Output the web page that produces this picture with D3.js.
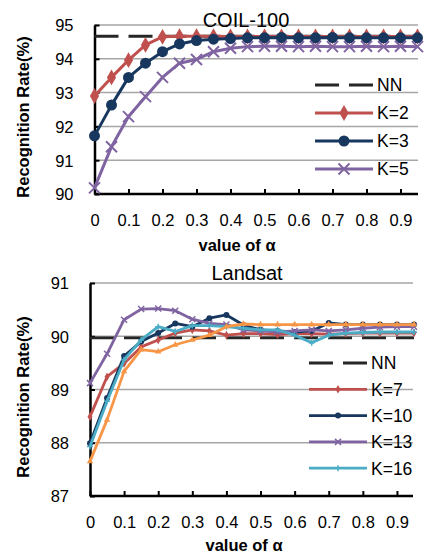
<!DOCTYPE html>
<html>
<head>
<meta charset="utf-8">
<script src="https://cdn.jsdelivr.net/npm/d3@7"></script>
<style>
  body { margin: 0; background: #fff; }
  svg text { font-family: "Liberation Sans", Arial, sans-serif; fill: #000; }
</style>
</head>
<body>
<script>
// alpha values (x categories)
const alpha = [0, 0.05, 0.1, 0.15, 0.2, 0.25, 0.3, 0.35, 0.4, 0.45,
               0.5, 0.55, 0.6, 0.65, 0.7, 0.75, 0.8, 0.85, 0.9, 0.95];
const xTicks = [0, 0.1, 0.2, 0.3, 0.4, 0.5, 0.6, 0.7, 0.8, 0.9];
const xTickLabels = ["0", "0.1", "0.2", "0.3", "0.4", "0.5", "0.6", "0.7", "0.8", "0.9"];

// COIL-100 panel
const coilTicks = [90, 91, 92, 93, 94, 95];
const coilNN = 94.67;
const coilK2 = [92.9, 93.45, 93.96, 94.41, 94.65, 94.67, 94.67, 94.67, 94.66, 94.66,
                94.66, 94.66, 94.66, 94.66, 94.66, 94.66, 94.66, 94.66, 94.66, 94.66];
const coilK3 = [91.72, 92.63, 93.45, 93.87, 94.21, 94.44, 94.54, 94.58, 94.6, 94.62,
                94.62, 94.63, 94.62, 94.62, 94.63, 94.62, 94.62, 94.62, 94.62, 94.62];
const coilK5 = [90.18, 91.4, 92.29, 92.88, 93.45, 93.87, 93.98, 94.21, 94.31, 94.36,
                94.37, 94.37, 94.36, 94.37, 94.36, 94.36, 94.37, 94.36, 94.37, 94.36];

// Landsat panel
const landTicks = [87, 88, 89, 90, 91];
const landNN = 89.97;
const landK7 = [88.49, 89.24, 89.49, 89.8, 89.93, 90.06, 90.12, 90.1, 90.02, 90.05,
                90.05, 90.03, 90.05, 90.05, 90.04, 90.05, 90.06, 90.06, 90.06, 90.06];
const landK10 = [87.99, 88.84, 89.63, 89.9, 90.06, 90.24, 90.18, 90.34, 90.4, 90.21,
                 90.12, 90.1, 90.08, 90.1, 90.25, 90.22, 90.22, 90.22, 90.22, 90.22];
const landK13 = [89.12, 89.67, 90.31, 90.51, 90.52, 90.48, 90.32, 90.24, 90.22, 90.12,
                 90.1, 90.08, 90.1, 90.12, 90.1, 90.12, 90.15, 90.17, 90.18, 90.18];
const landK16 = [87.93, 88.78, 89.56, 89.93, 90.18, 90.09, 90.2, 90.2, 90.18, 90.15,
                 90.12, 90.12, 90.02, 89.88, 90.02, 90.06, 90.07, 90.08, 90.08, 90.08];
const landK19 = [87.65, 88.43, 89.34, 89.75, 89.71, 89.84, 89.93, 90.02, 90.18, 90.23,
                 90.22, 90.22, 90.22, 90.22, 90.22, 90.22, 90.22, 90.22, 90.22, 90.22];

const svg = d3.select("body").append("svg")
  .attr("width", 426).attr("height", 554);

function marker(g, type, x, y, size, color, sw) {
  if (type === "diamond") {
    g.append("path").attr("d", d3.symbol(d3.symbolDiamond, size * size * 0.6)())
      .attr("transform", "translate(" + x + "," + y + ")").attr("fill", color);
  } else if (type === "circle") {
    g.append("circle").attr("cx", x).attr("cy", y).attr("r", size / 2).attr("fill", color);
  } else if (type === "triangle") {
    g.append("path").attr("d", d3.symbol(d3.symbolTriangle, size * size * 0.5)())
      .attr("transform", "translate(" + x + "," + y + ")").attr("fill", color);
  } else if (type === "x" || type === "plus") {
    const h = size / 2;
    const p = type === "x"
      ? "M" + (-h) + "," + (-h) + "L" + h + "," + h + "M" + (-h) + "," + h + "L" + h + "," + (-h)
      : "M" + (-h) + ",0L" + h + ",0M0," + (-h) + "L0," + h;
    g.append("path").attr("d", p).attr("transform", "translate(" + x + "," + y + ")")
      .attr("stroke", color).attr("stroke-width", sw).attr("fill", "none");
  }
}

function panel(cfg) {
  const g = svg.append("g");
  const x = d3.scaleLinear().domain([0, 0.95]).range([cfg.left, cfg.right]);
  const y = d3.scaleLinear().domain(d3.extent(cfg.yTicks)).range([cfg.bottom, cfg.top]);

  // gridlines
  g.append("g").selectAll("line").data(cfg.yTicks.slice(1)).join("line")
    .attr("x1", cfg.left).attr("x2", cfg.gridRight)
    .attr("y1", d => y(d)).attr("y2", d => y(d))
    .attr("stroke", "#a6a6a6").attr("stroke-width", 1.5);

  // axes
  const yAxis = d3.axisLeft(y).tickValues(cfg.yTicks).tickFormat(d3.format("d"))
    .tickSizeInner(-5).tickSizeOuter(0).tickPadding(21);
  const ya = g.append("g").attr("transform", "translate(" + cfg.left + ",0)").call(yAxis);
  ya.selectAll("text").style("font-size", "16.5px").attr("dy", "0.36em");

  const xAxis = d3.axisBottom(x).tickValues(xTicks).tickSizeInner(-5).tickSizeOuter(0)
    .tickPadding(20).tickFormat((d, i) => xTickLabels[i]);
  const xa = g.append("g").attr("transform", "translate(0," + cfg.bottom + ")").call(xAxis);
  xa.select(".domain").attr("d", "M" + cfg.left + ",0H" + cfg.gridRight);
  xa.selectAll("text").style("font-size", "16.5px");
  [ya, xa].forEach(a => {
    a.select(".domain").attr("stroke", "#000").attr("stroke-width", 2.5);
    a.selectAll(".tick line").attr("stroke", "#000").attr("stroke-width", 2);
  });

  // NN dashed
  g.append("line").attr("x1", cfg.left).attr("x2", cfg.right)
    .attr("y1", y(cfg.nn)).attr("y2", y(cfg.nn))
    .attr("stroke", "#262626").attr("stroke-width", cfg.lw).attr("stroke-dasharray", "24,10");

  const line = d3.line().x((d, i) => x(alpha[i])).y(d => y(d));
  cfg.series.forEach(s => {
    g.append("path").datum(s.values).attr("d", line)
      .attr("fill", "none").attr("stroke", s.color).attr("stroke-width", cfg.lw)
      .attr("stroke-linejoin", "round");
    const mg = g.append("g");
    s.values.forEach((v, i) => marker(mg, s.marker, x(alpha[i]), y(v), cfg.ms, s.color, cfg.msw));
  });

  // title
  g.append("text").attr("x", cfg.titleX).attr("y", cfg.titleY).attr("text-anchor", "middle")
    .style("font-size", "20px").text(cfg.title);
  // axis titles
  g.append("text").attr("x", cfg.xTitleX).attr("y", cfg.xTitleY).attr("text-anchor", "middle")
    .style("font-size", "16.5px").style("font-weight", "bold").text("value of α");
  g.append("text").attr("transform", "translate(29," + cfg.yTitleY + ") rotate(-90)")
    .attr("text-anchor", "middle").style("font-size", "16.5px").style("font-weight", "bold")
    .text("Recognition Rate(%)");

  // legend
  const items = [{ name: "NN", dash: true, color: "#262626" }].concat(cfg.series.filter(s => s.legend));
  items.forEach((it, i) => {
    const ly = cfg.legendY + i * cfg.legendStep;
    const lg = g.append("g");
    lg.append("line").attr("x1", cfg.legendX).attr("x2", cfg.legendX + 58)
      .attr("y1", ly).attr("y2", ly).attr("stroke", it.color).attr("stroke-width", cfg.lw)
      .attr("stroke-dasharray", it.dash ? "24,10" : null);
    if (!it.dash) marker(lg, it.marker, cfg.legendX + 29, ly, cfg.ms, it.color, cfg.msw);
    lg.append("text").attr("x", cfg.legendX + 62).attr("y", ly).attr("dy", "0.36em")
      .style("font-size", "17.5px").text(it.name);
  });
}

panel({
  title: "COIL-100", titleX: 246, titleY: 27,
  left: 94.5, right: 417.5, gridRight: 418, top: 25, bottom: 194,
  yTicks: coilTicks, nn: coilNN, lw: 3, ms: 11, msw: 2,
  xTitleX: 237, xTitleY: 251, yTitleY: 117,
  legendX: 315, legendY: 85, legendStep: 28,
  series: [
    { name: "K=2", values: coilK2, color: "#c0504d", marker: "diamond", legend: true },
    { name: "K=3", values: coilK3, color: "#17375e", marker: "circle", legend: true },
    { name: "K=5", values: coilK5, color: "#8064a2", marker: "x", legend: true }
  ]
});

panel({
  title: "Landsat", titleX: 247, titleY: 280,
  left: 90, right: 414, gridRight: 413, top: 283, bottom: 496,
  yTicks: landTicks, nn: landNN, lw: 2.8, ms: 6, msw: 1.5,
  xTitleX: 244, xTitleY: 551, yTitleY: 397,
  legendX: 309, legendY: 363, legendStep: 26.3,
  series: [
    { name: "K=7", values: landK7, color: "#c0504d", marker: "diamond", legend: true },
    { name: "K=10", values: landK10, color: "#17375e", marker: "circle", legend: true },
    { name: "K=13", values: landK13, color: "#8064a2", marker: "x", legend: true },
    { name: "K=16", values: landK16, color: "#4bacc6", marker: "plus", legend: true },
    { name: "K=19", values: landK19, color: "#f79646", marker: "triangle", legend: false }
  ]
});
</script>
</body>
</html>
